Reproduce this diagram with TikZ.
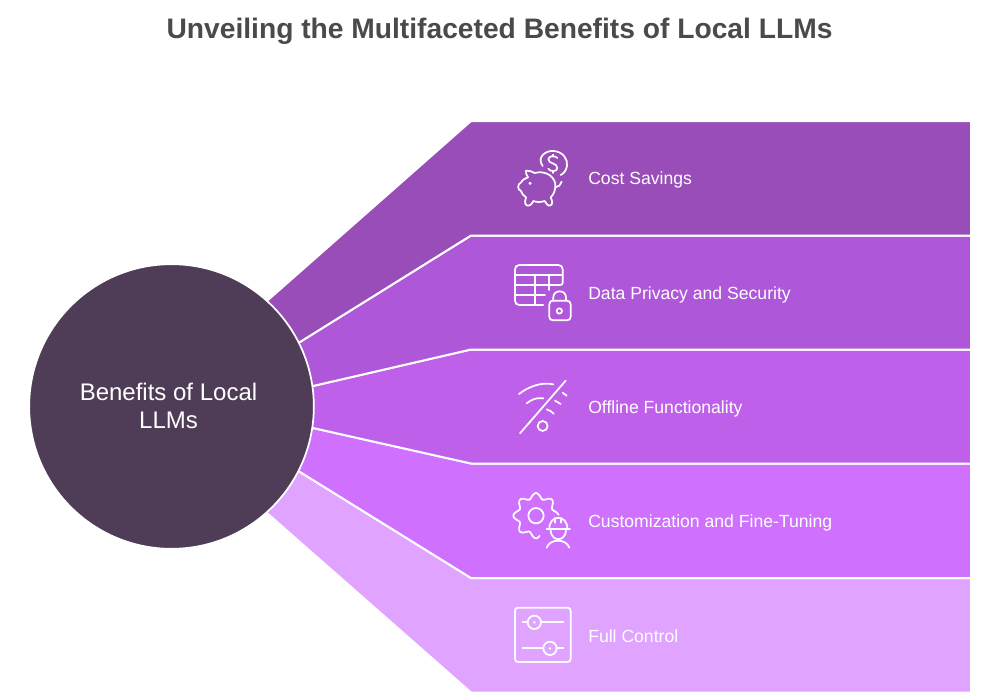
\documentclass[tikz,border=0pt]{standalone}
\usepackage{fontspec}
\setmainfont{Liberation Sans}
\definecolor{bandA}{HTML}{994DB8}
\definecolor{bandB}{HTML}{AF57D9}
\definecolor{bandC}{HTML}{BF60EB}
\definecolor{bandD}{HTML}{CF70FF}
\definecolor{bandE}{HTML}{E0A3FF}
\definecolor{hub}{HTML}{4F3D57}
\definecolor{titlegrey}{HTML}{4A4A4A}
\tikzset{
  band/.style={draw=white,line width=1.5pt,line join=miter},
  label/.style={anchor=west,text=white,font=\fontsize{13.2}{15}\selectfont,inner sep=0pt},
  icon/.style={draw=white,line width=1.3pt,line cap=round,line join=round},
  zoomed/.style={x=.25pt,y=-.25pt}
}
\begin{document}
\begin{tikzpicture}[x=.75pt,y=-.75pt]
\useasboundingbox (0,0) rectangle (1000,700);
\fill[white] (0,0) rectangle (1000,700);
\coordinate (c) at (171.5,406.5);
\filldraw[band,fill=bandE,draw=white] (c) -- (268,514) -- (471,692.5) -- (971,692.5) -- (971,578) -- (471,578) -- (300,472) -- cycle;
\filldraw[band,fill=bandD] (c) -- (300,472) -- (471,578) -- (971,578) -- (971,463.5) -- (471,463.5) -- (313,428) -- cycle;
\filldraw[band,fill=bandC] (c) -- (313,428) -- (471,463.5) -- (971,463.5) -- (971,349.5) -- (471,349.5) -- (313,386) -- cycle;
\filldraw[band,fill=bandB] (c) -- (313,386) -- (471,349.5) -- (971,349.5) -- (971,235.5) -- (471,235.5) -- (300,342) -- cycle;
\filldraw[band,fill=bandA] (c) -- (300,342) -- (471,235.5) -- (971,235.5) -- (971,121) -- (471,121) -- (268,300) -- cycle;
\node[circle,fill=hub,draw=white,line width=1.3pt,minimum size=213.5pt,inner sep=0pt] (hubnode) at (c) {};
\node[text=white,align=center,font=\fontsize{18}{21.5}\selectfont] (hubtext) at (168.5,406) {Benefits of Local\\LLMs};
\node[text=titlegrey,font=\bfseries\fontsize{21.15}{24}\selectfont] (title) at (499.5,31) {Unveiling the Multifaceted Benefits of Local LLMs};
\node[label] (l1) at (588,180) {Cost Savings};
\node[label] (l2) at (588,294.5) {Data Privacy and Security};
\node[label] (l3) at (588,408.5) {Offline Functionality};
\node[label] (l4) at (588,523) {Customization and Fine-Tuning};
\node[label] (l5) at (588,636) {Full Control};
% piggy bank and coin
\begin{scope}[shift={(500,140)},zoomed]
\draw[icon] (78,92) .. controls (88,90) and (97,96) .. (104,99) .. controls (130,92) and (158,102) .. (166,130) .. controls (168,150) and (160,165) .. (152,172) .. controls (156,182) and (160,190) .. (152,196) .. controls (144,200) and (138,190) .. (134,183) .. controls (122,187) and (110,187) .. (100,183) .. controls (96,192) and (88,200) .. (80,196) .. controls (72,190) and (76,180) .. (78,172) .. controls (70,168) and (66,160) .. (62,152) .. controls (52,150) and (52,132) .. (62,128) .. controls (66,120) and (74,116) .. (84,112) .. controls (80,106) and (76,98) .. (78,92) -- cycle;
\draw[icon] (166,142) .. controls (176,142) and (182,134) .. (185,125);
\fill[white] (90,130) circle (5);
\draw[icon] (128,78) .. controls (108,50) and (140,30) .. (162,33) .. controls (190,36) and (204,58) .. (201,78) .. controls (198,92) and (192,100) .. (182,105);
\draw[icon] (172,54) .. controls (166,46) and (146,46) .. (145,58) .. controls (145,72) and (172,68) .. (172,84) .. controls (172,96) and (150,96) .. (145,86);
\draw[icon] (158,44) -- (158,50) (158,92) -- (158,99);
\end{scope}
% table and lock
\begin{scope}[shift={(500,140)},zoomed]
\draw[icon] (130,495) -- (58,495) .. controls (50,495) and (45,490) .. (45,482) -- (45,388) .. controls (45,380) and (50,375) .. (58,375) -- (175,375) .. controls (183,375) and (188,380) .. (188,388) -- (188,428) .. controls (188,433) and (185,435) .. (180,435) -- (45,435);
\draw[icon] (45,405) -- (188,405) (45,465) -- (135,465) (105,405) -- (105,495) (148,405) -- (148,450);
\draw[icon] (158,482) -- (200,482) .. controls (208,482) and (212,486) .. (212,494) -- (212,530) .. controls (212,537) and (208,541) .. (200,541) -- (160,541) .. controls (152,541) and (148,537) .. (148,530) -- (148,494) .. controls (148,486) and (152,482) .. (158,482) -- cycle;
\draw[icon] (160,482) -- (160,472) .. controls (160,448) and (198,448) .. (198,472) -- (198,482);
\draw[icon] (178,513) circle (8);
\end{scope}
% wifi off
\begin{scope}[shift={(500,370)},zoomed]
\draw[icon] (60,190) -- (197,32);
\draw[icon] (57,72) .. controls (85,50) and (125,35) .. (160,43);
\draw[icon] (80,100) .. controls (95,88) and (110,82) .. (130,85);
\draw[icon] (140,118) .. controls (148,120) and (155,125) .. (161,131);
\draw[icon] (165,92) -- (182,102) (188,68) -- (200,77);
\draw[icon] (128,168) circle (15);
\end{scope}
% gear and worker
\begin{scope}[shift={(500,370)},zoomed]
\draw[icon] plot[smooth,domain=80:358,samples=80] ({108+(60+8*cos(8*\x))*cos(\x)},{437+(60+8*cos(8*\x))*sin(\x)});
\draw[icon] (108,437) circle (23);
\draw[icon] (148,478) .. controls (146,432) and (204,432) .. (202,478);
\draw[icon] (140,478) -- (210,478);
\draw[icon] (166,444) -- (166,458) (184,444) -- (184,458);
\draw[icon] (152,482) .. controls (154,516) and (196,516) .. (198,482);
\draw[icon] (140,533) .. controls (150,505) and (198,505) .. (208,533);
\end{scope}
% sliders
\begin{scope}[shift={(500,590)},zoomed]
\draw[icon] (45,63) .. controls (45,56) and (48,53) .. (55,53) -- (202,53) .. controls (209,53) and (212,56) .. (212,63) -- (212,206) .. controls (212,213) and (209,216) .. (202,216) -- (55,216) .. controls (48,216) and (45,213) .. (45,206) -- cycle;
\draw[icon] (68,97) -- (83,97) (123,97) -- (190,97);
\draw[icon] (68,175) -- (130,175) (170,175) -- (190,175);
\draw[icon] (103,97) circle (20) (150,175) circle (20);
\fill[white] (103,97) circle (4) (150,175) circle (4);
\end{scope}
\end{tikzpicture}
\end{document}
